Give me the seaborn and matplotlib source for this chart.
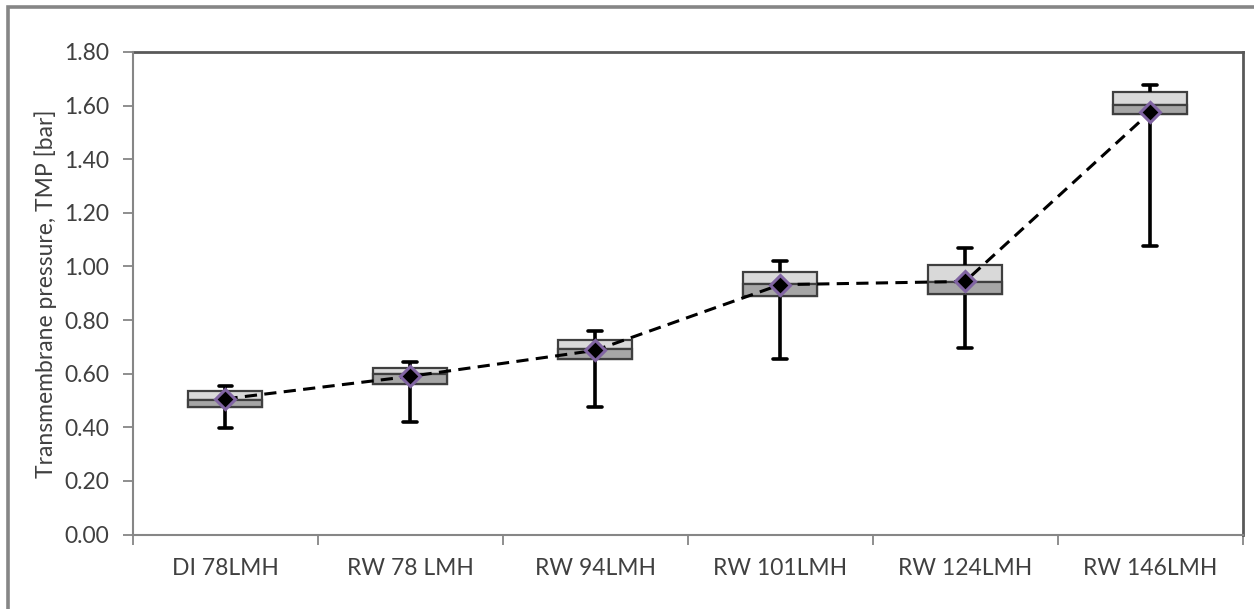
import matplotlib
matplotlib.use("Agg")
import matplotlib.pyplot as plt
from matplotlib.patches import Rectangle
from matplotlib.ticker import FixedLocator, FormatStrFormatter
import numpy as np
import pandas as pd
import seaborn as sns

# Transmembrane pressure summary per test condition
categories = ["DI 78LMH", "RW 78 LMH", "RW 94LMH", "RW 101LMH", "RW 124LMH", "RW 146LMH"]
tmp_min = [0.396, 0.421, 0.477, 0.653, 0.696, 1.078]
tmp_q1 = [0.474, 0.560, 0.656, 0.891, 0.896, 1.569]
tmp_median = [0.502, 0.597, 0.693, 0.934, 0.943, 1.603]
tmp_q3 = [0.537, 0.622, 0.727, 0.980, 1.004, 1.650]
tmp_max = [0.553, 0.644, 0.758, 1.021, 1.070, 1.676]
tmp_mean = [0.506, 0.590, 0.687, 0.932, 0.944, 1.575]
y_ticks = [0.0, 0.2, 0.4, 0.6, 0.8, 1.0, 1.2, 1.4, 1.6, 1.8]

sns.set_theme(style="white")
plt.rcParams["font.family"] = ["Lato", "DejaVu Sans"]

TEXT = "#404040"
AXIS_GREY = "#868686"
BOX_EDGE = "#3f3f3f"
LIGHT = "#d9d9d9"
DARK = "#a6a6a6"
FS = 16.5

# Five-number summaries laid out long-form: with exactly five values per
# group, the 25/50/75 percentiles fall on q1/median/q3 and whis=(0, 100)
# puts the whisker ends at min/max.
rows = []
for cat, lo, q1, md, q3, hi in zip(categories, tmp_min, tmp_q1, tmp_median, tmp_q3, tmp_max):
    for v in (lo, q1, md, q3, hi):
        rows.append({"condition": cat, "tmp": v})
df = pd.DataFrame(rows)

lower_half = pd.DataFrame({
    "condition": categories,
    "height": np.array(tmp_median) - np.array(tmp_q1),
})
means = pd.DataFrame({"condition": categories, "tmp": tmp_mean})

fig = plt.figure(figsize=(12.54, 6.09), dpi=100)
ax = fig.add_axes([133 / 1254, 1 - 534.5 / 609, (1242.5 - 133) / 1254, (534.5 - 52) / 609])

sns.boxplot(
    data=df, x="condition", y="tmp", order=categories,
    whis=(0, 100), width=0.4, color=LIGHT, linecolor=BOX_EDGE, linewidth=1.6,
    saturation=1, showfliers=False, ax=ax,
    whiskerprops=dict(color="black", linewidth=2.6),
    capprops=dict(color="black", linewidth=2.6),
    medianprops=dict(color=BOX_EDGE, linewidth=1.6),
    capwidths=0.075,
)

# darker lower half of each box (q1 up to the median)
sns.barplot(
    data=lower_half, x="condition", y="height", order=categories,
    bottom=tmp_q1, width=0.4, color=DARK, saturation=1, errorbar=None,
    edgecolor=BOX_EDGE, linewidth=1.6, zorder=2.2, ax=ax,
)

# mean values joined by a dashed line
sns.pointplot(
    data=means, x="condition", y="tmp", order=categories,
    color="black", markers="D", linestyles="--", errorbar=None,
    markersize=10.5, markeredgecolor="#8064a2", markeredgewidth=2.2,
    linewidth=2.2, dashes=(4.0, 2.4), zorder=5, ax=ax,
)

ax.set_xlim(-0.5, len(categories) - 0.5)
ax.set_ylim(0, 1.8)
ax.yaxis.set_major_locator(FixedLocator(y_ticks))
ax.yaxis.set_major_formatter(FormatStrFormatter("%.2f"))
ax.set_xlabel("")
ax.set_ylabel("Transmembrane pressure, TMP [bar]", fontsize=FS, color=TEXT, labelpad=5)

ax.xaxis.set_minor_locator(FixedLocator(np.arange(-0.5, len(categories), 1.0)))
ax.tick_params(axis="x", which="major", length=0, pad=17, labelsize=FS, labelcolor=TEXT)
ax.tick_params(axis="x", which="minor", length=7, width=1.3, color=AXIS_GREY, direction="out", bottom=True)
ax.tick_params(axis="y", which="major", length=7, width=1.3, color=AXIS_GREY, direction="out",
               pad=10, labelsize=FS, labelcolor=TEXT, left=True)

for side in ("left", "bottom"):
    ax.spines[side].set_color(AXIS_GREY)
    ax.spines[side].set_linewidth(1.5)
    ax.spines[side].set_zorder(6)
for side in ("top", "right"):
    ax.spines[side].set_color("#595959")
    ax.spines[side].set_linewidth(2.0)

# chart-area frame
fig.add_artist(Rectangle((8 / 1254, -0.05), 1.2, 1.05 - 7 / 609, transform=fig.transFigure,
                         fill=False, edgecolor=AXIS_GREY, linewidth=2.6))

fig.savefig("out.png", dpi=100)
